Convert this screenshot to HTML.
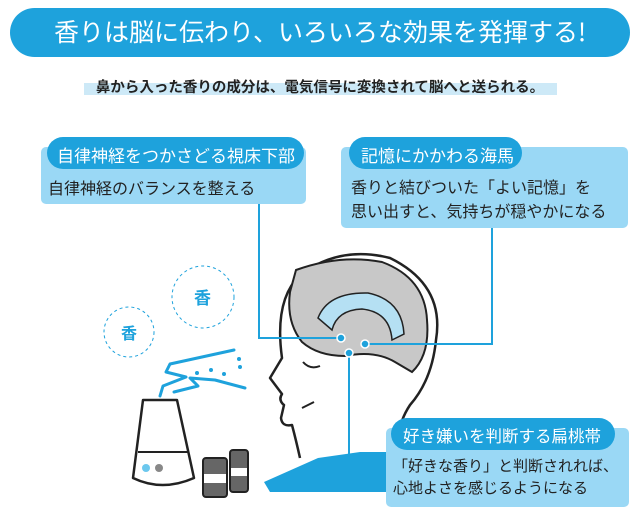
<!DOCTYPE html>
<html><head><meta charset="utf-8"><style>
body{margin:0;width:640px;height:520px;background:#fff;overflow:hidden;font-family:"Liberation Sans","Noto Sans CJK JP",sans-serif;}
svg{position:absolute;left:0;top:0}
.t{position:absolute;white-space:nowrap;font-family:"Noto Sans CJK JP",sans-serif}
</style></head><body>
<svg width="640" height="520" viewBox="0 0 640 520">
<rect x="10" y="8" width="620" height="49" rx="24.5" fill="#1ea2dc"/>
<rect x="84" y="83" width="473" height="12" fill="#cde9f7"/>
<rect x="41" y="147" width="265" height="57" rx="5" fill="#9ad8f5"/>
<rect x="47" y="137" width="257" height="32" rx="16" fill="#1ea2dc"/>
<rect x="341" y="147" width="287" height="81" rx="5" fill="#9ad8f5"/>
<rect x="349" y="137" width="173" height="32" rx="16" fill="#1ea2dc"/>
<circle cx="203" cy="297" r="31" fill="none" stroke="#1ea2dc" stroke-width="1" stroke-dasharray="3 3"/>
<circle cx="129" cy="332" r="25" fill="none" stroke="#1ea2dc" stroke-width="1" stroke-dasharray="3 3"/>
<path d="M160 396 L163 386 L186 377 L166 372 L170 364 L234 350 M174 392 L198 386 L190 378 L215 380 L245 388" fill="none" stroke="#1ea2dc" stroke-width="3" stroke-linecap="round" stroke-linejoin="round"/>
<g fill="#1ea2dc"><circle cx="197" cy="373" r="2"/><circle cx="211" cy="370" r="2"/><circle cx="224" cy="374" r="2"/><circle cx="239" cy="359" r="2"/><circle cx="240" cy="367" r="2"/></g>
<path d="M143 400 L177 400 L194 478 Q162 492 133 478 Z" fill="#fff" stroke="#222" stroke-width="2.5" stroke-linejoin="round"/>
<path d="M138 452 L189 452" stroke="#222" stroke-width="2"/>
<circle cx="146" cy="468" r="4" fill="#6cc8ee"/><circle cx="159" cy="468" r="4" fill="#888"/>
<rect x="230" y="450" width="18" height="42" rx="3" fill="#666" stroke="#222" stroke-width="2"/>
<rect x="203" y="458" width="24" height="39" rx="3" fill="#666" stroke="#222" stroke-width="2"/>
<rect x="204" y="474" width="22" height="9" fill="#fff"/><rect x="231" y="468" width="16" height="8" fill="#fff"/>
<path d="M264 482 L318 458 L360 452 L400 452 L400 492 L270 492 Z" fill="#1ea2dc"/>
<path d="M300 458 Q296 440 292 425 Q282 427 281 418 L284 405 Q278 400 282 394 L276 386 L270 378 L282 358 Q274 300 300 275 Q340 245 390 258 Q445 285 436 340 Q432 380 410 405 Q400 420 398 438" fill="#fff" stroke="#222" stroke-width="2.5" stroke-linejoin="round"/>
<path d="M296 270 Q340 254 382 262 Q425 278 427 320 Q430 355 412 372 L395 362 Q375 350 345 356 Q318 356 302 342 Q286 322 290 292 Z" fill="#c8c8c8" stroke="#222" stroke-width="2"/>
<path d="M318 318 Q328 292 368 293 Q402 300 404 334 L392 340 Q390 312 362 309 Q337 310 332 330 Z" fill="#b5e0f3" stroke="#222" stroke-width="1.5"/>
<path d="M303 362 Q310 370 320 366" fill="none" stroke="#222" stroke-width="2"/>
<path d="M302 408 L314 402" stroke="#222" stroke-width="2"/>
<g fill="none" stroke="#1ea2dc" stroke-width="2">
<path d="M259 204 V338 H341"/>
<path d="M492 228 V344 H365"/>
<path d="M349 353 V468 H386"/>
</g>
<g fill="#1ea2dc" stroke="#fff" stroke-width="1.5"><circle cx="341" cy="338" r="4"/><circle cx="365" cy="344" r="4"/><circle cx="349" cy="353" r="4"/></g>
<rect x="386" y="428" width="243" height="79" rx="5" fill="#9ad8f5"/>
<rect x="391" y="418" width="224" height="32" rx="16" fill="#1ea2dc"/>
</svg>
<div class="t" style="left:20px;top:13px;width:600px;text-align:center;color:#fff;font-size:25px">香りは脳に伝わり、いろいろな効果を発揮する!</div>
<div class="t" style="left:70px;top:76px;width:500px;text-align:center;color:#222;font-size:14.5px;font-weight:bold">鼻から入った香りの成分は、電気信号に変換されて脳へと送られる。</div>
<div class="t" style="left:57px;top:142px;color:#fff;font-size:17px">自律神経をつかさどる視床下部</div>
<div class="t" style="left:48px;top:175px;color:#222;font-size:16px">自律神経のバランスを整える</div>
<div class="t" style="left:361px;top:142px;color:#fff;font-size:17px">記憶にかかわる海馬</div>
<div class="t" style="left:351px;top:174px;color:#222;font-size:16px;line-height:24px">香りと結びついた「よい記憶」を<br>思い出すと、気持ちが穏やかになる</div>
<div class="t" style="left:403px;top:423px;color:#fff;font-size:16.5px">好き嫌いを判断する扁桃帯</div>
<div class="t" style="left:393px;top:455px;color:#222;font-size:15px;line-height:22px">「好きな香り」と判断されれば、<br>心地よさを感じるようになる</div>
<div class="t" style="left:194px;top:284px;color:#1ea2dc;font-size:17px;font-weight:bold">香</div>
<div class="t" style="left:121px;top:320px;color:#1ea2dc;font-size:16px;font-weight:bold">香</div>
</body></html>
